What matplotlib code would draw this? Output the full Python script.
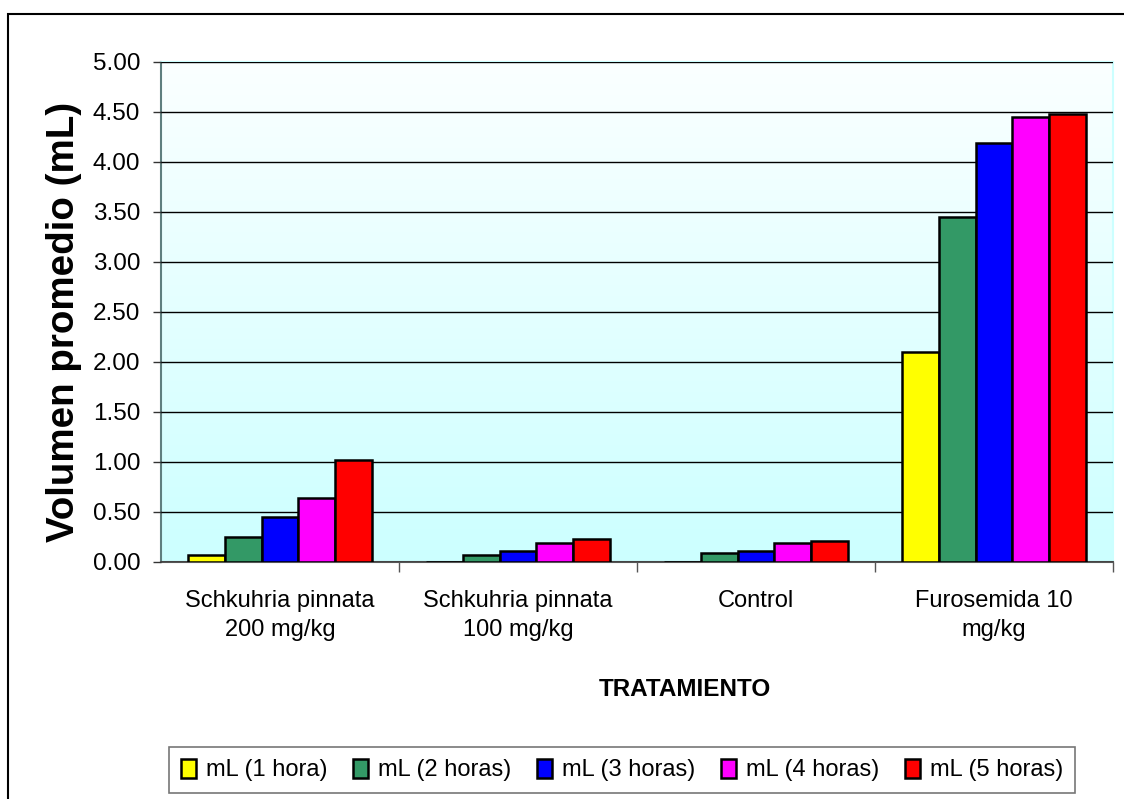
import numpy as np
import matplotlib
matplotlib.use('Agg')
import matplotlib.pyplot as plt
from matplotlib.patches import Rectangle
from matplotlib.colors import LinearSegmentedColormap

plt.rcParams['font.family'] = ['Liberation Sans', 'DejaVu Sans']

# data
categories = ['Schkuhria pinnata\n200 mg/kg', 'Schkuhria pinnata\n100 mg/kg',
              'Control', 'Furosemida 10\nmg/kg']
series = ['mL (1 hora)', 'mL (2 horas)', 'mL (3 horas)', 'mL (4 horas)', 'mL (5 horas)']
h1 = [0.07, 0.00, 0.00, 2.10]
h2 = [0.25, 0.07, 0.095, 3.45]
h3 = [0.45, 0.115, 0.115, 4.19]
h4 = [0.64, 0.19, 0.19, 4.45]
h5 = [1.02, 0.235, 0.21, 4.48]
values = [h1, h2, h3, h4, h5]
colors = ['#FFFF00', '#339966', '#0000FF', '#FF00FF', '#FF0000']
yticks = np.arange(0, 5.01, 0.5)

fig = plt.figure(figsize=(11.24, 7.99), dpi=100)
ax = fig.add_axes([161/1124, 1-562/799, 952/1124, 500/799])

# background gradient, white at top to light cyan at bottom
cmap = LinearSegmentedColormap.from_list('bg', ['#CCFFFF', '#FBFFFF'])
grad = np.linspace(0, 1, 256).reshape(-1, 1)
ax.imshow(grad, extent=[-0.5, 3.5, 0, 5], origin='lower', aspect='auto',
          cmap=cmap, zorder=0)

x = np.arange(len(categories))
w = 0.154
for i, (name, vals) in enumerate(zip(series, values)):
    ax.bar(x + (i - 2) * w, vals, w, color=colors[i], edgecolor='black',
           linewidth=1.8, label=name, zorder=3)

ax.set_xlim(-0.5, 3.5)
ax.set_ylim(0, 5)
ax.set_yticks(yticks)
ax.set_yticklabels(['%.2f' % v for v in yticks], fontsize=17.5)
ax.yaxis.grid(True, color='black', linewidth=1, zorder=1)
ax.set_axisbelow(False)

# boundary ticks on x, labels at category centers
ax.set_xticks([0.5, 1.5, 2.5, 3.5])
ax.set_xticklabels([])
ax.set_xticks(x, minor=True)
ax.set_xticklabels(categories, minor=True, fontsize=17, linespacing=1.45)
ax.tick_params(axis='x', which='minor', length=0, pad=20)
ax.tick_params(axis='x', which='major', length=7, width=1, color='#555555')
ax.tick_params(axis='y', length=6, width=1, pad=9, color='#333333')

ax.spines['left'].set_color('#5F7F7F')
ax.spines['bottom'].set_color('#555555')
ax.spines['top'].set_color('#CCFFFF')
ax.spines['right'].set_color('#CCFFFF')
for s in ax.spines.values():
    s.set_linewidth(1.5)

fig.text(64/1124, 1-322/799, 'Volumen promedio (mL)', rotation=90,
         ha='center', va='center', fontsize=27.7, fontweight='bold')
fig.text(685/1124, 1-690/799, 'TRATAMIENTO', ha='center', va='center',
         fontsize=17.5, fontweight='bold')

leg = fig.legend(loc='center', bbox_to_anchor=(622/1124, 1-770/799), ncol=5,
                 fontsize=17, frameon=True, fancybox=False, edgecolor='#555555',
                 handlelength=0.65, handleheight=0.85, handletextpad=0.4,
                 columnspacing=1.1, borderpad=0.5)
leg.get_frame().set_linewidth(1.2)

# outer chart border
fig.patches.append(Rectangle((8/1124, -0.05), 1.2, 1.05 - 14/799, fill=False,
                             edgecolor='black', linewidth=1.5,
                             transform=fig.transFigure, figure=fig))

fig.savefig('out.png', dpi=100)
